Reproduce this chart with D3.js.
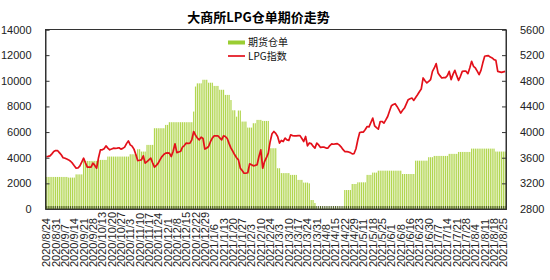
<!DOCTYPE html>
<html><head><meta charset="utf-8">
<script src="https://cdn.jsdelivr.net/npm/d3@7"></script>
<style>body{margin:0;background:#fff}svg{display:block}</style>
</head><body><svg id="c" width="550" height="280"></svg>
<script>
const title = "大商所LPG仓单期价走势";
const seriesNames = ["期货仓单", "LPG指数"];
const tickLabels = ["2020/8/24","2020/8/31","2020/9/7","2020/9/14","2020/9/21","2020/9/28","2020/10/13","2020/10/20","2020/10/27","2020/11/3","2020/11/10","2020/11/17","2020/11/24","2020/12/1","2020/12/8","2020/12/15","2020/12/22","2020/12/29","2021/1/6","2021/1/13","2021/1/20","2021/1/27","2021/2/3","2021/2/10","2021/2/24","2021/3/3","2021/3/10","2021/3/17","2021/3/24","2021/3/31","2021/4/8","2021/4/15","2021/4/22","2021/4/29","2021/5/11","2021/5/18","2021/5/25","2021/6/1","2021/6/8","2021/6/16","2021/6/23","2021/6/30","2021/7/7","2021/7/14","2021/7/21","2021/7/28","2021/8/4","2021/8/11","2021/8/18","2021/8/25"];
const leftTicks = [0,2000,4000,6000,8000,10000,12000,14000];
const rightTicks = [2800,3200,3600,4000,4400,4800,5200,5600];
// daily warehouse receipts (期货仓单)
const receipts = [
2500,2500,2500,2500,2500,2500,2500,2500,2500,2500,
2500,2500,2450,2450,2450,2450,2700,2700,2700,2700,
3750,3750,3750,3750,3750,3750,3750,3750,3830,3830,
3830,3830,3830,4090,4090,4090,4090,4090,4090,4090,
4090,4090,4090,4090,4090,4270,4270,4270,4270,4660,
4660,4480,4480,4480,5000,5000,5000,5000,6300,6300,
6300,6300,6300,6300,6560,6560,6770,6770,6770,6770,
6770,6770,6770,6770,6770,6770,6770,6770,6770,7600,
9550,9800,9800,9800,10080,10080,10080,9850,9850,9850,
9600,9600,9600,9300,9300,9300,8900,8900,8900,8500,
7700,7700,7200,7680,7680,6820,6820,6820,6350,6350,
6350,6690,6690,6950,6950,6950,6870,6870,6870,6870,
4740,4740,4740,4740,3180,3180,2800,2800,2800,2800,
2800,2660,2660,2660,2660,2270,2270,2270,2060,2060,
2060,2000,700,700,470,0,0,0,0,0,
0,0,0,0,0,0,0,0,0,0,
1480,1480,1480,1480,1950,1950,1950,2080,2080,2080,
2080,2080,2660,2660,2660,2840,2840,2840,2990,2990,
2990,2990,2990,2990,2990,2990,2990,2990,2990,2990,
2990,2730,2730,2730,2730,2730,2730,2730,3770,3770,
3770,3770,3770,3770,3770,4040,4040,4040,4140,4140,
4140,4140,4140,4140,4140,4140,4300,4300,4300,4300,
4300,4450,4450,4450,4450,4450,4450,4450,4710,4710,
4710,4710,4710,4710,4710,4710,4710,4710,4710,4710,
4710,4480,4480,4480,4480,4480,4480];
// daily LPG index (LPG指数)
const lpgIndex = [
3618,3620,3629,3660,3696,3712,3712,3680,3645,3600,
3593,3580,3566,3545,3515,3475,3437,3440,3473,3530,
3593,3520,3452,3455,3452,3515,3480,3437,3600,3723,
3723,3740,3785,3750,3723,3735,3749,3745,3749,3755,
3734,3745,3765,3820,3863,3801,3780,3734,3650,3556,
3560,3566,3629,3515,3540,3566,3593,3520,3452,3480,
3515,3570,3618,3650,3671,3675,3671,3618,3700,3817,
3680,3690,3700,3765,3790,3828,3825,3828,3879,4009,
3950,3906,3879,3921,3900,3734,3750,3775,3850,3906,
3942,3940,3942,3910,3879,3942,3930,3900,3820,3749,
3700,3645,3600,3566,3437,3400,3358,3360,3365,3504,
3490,3473,3480,3490,3618,3723,3437,3540,3600,3671,
3850,3973,4009,3980,3931,3828,3870,3853,3906,3879,
3870,3957,3945,3940,3940,3945,3945,3900,3853,3931,
3785,3830,3820,3780,3749,3828,3800,3760,3765,3765,
3750,3750,3790,3817,3810,3815,3820,3800,3770,3730,
3696,3695,3690,3680,3660,3665,3740,3880,3993,4000,
4000,4040,4087,4080,4150,4218,4098,4070,4046,4165,
4165,4140,4190,4243,4330,4411,4430,4442,4400,4350,
4296,4340,4375,4440,4505,4520,4531,4494,4540,4583,
4630,4672,4844,4800,4766,4790,4818,4947,5000,5068,
4922,4880,4844,4850,4850,4880,4947,4818,4900,4963,
4880,4807,4870,4947,4950,4950,4911,5000,5104,5026,
5000,4950,4896,4963,5080,5182,5190,5193,5170,5156,
5130,5120,4947,4940,4932,4940,4947];

const svg = d3.select("#c");
const L = 45.5, R = 506, T = 29.5, B = 209;
const idx = d3.range(receipts.length);
const x = d3.scaleBand().domain(idx).range([L, R]).paddingInner(0.35).paddingOuter(0.1);
const yL = d3.scaleLinear().domain([0, 14000]).range([B, T]);
const yR = d3.scaleLinear().domain([2800, 5600]).range([B, T]);

svg.append("text").attr("x", 258.5).attr("y", 22).attr("text-anchor", "middle")
  .attr("font-family", "'Noto Sans CJK SC', sans-serif").attr("font-weight", "bold")
  .attr("font-size", 13).attr("fill", "#000").text(title);

// bars
svg.append("g").selectAll("rect").data(receipts).join("rect")
  .attr("x", (d, i) => x(i)).attr("width", x.bandwidth())
  .attr("y", d => yL(d)).attr("height", d => B - yL(d))
  .attr("fill", "#b2d650");

// line
svg.append("path").datum(lpgIndex)
  .attr("d", d3.line().x((d, i) => x(i) + x.bandwidth() / 2).y(d => yR(d)))
  .attr("fill", "none").attr("stroke", "#e3101a").attr("stroke-width", 1.7)
  .attr("stroke-linejoin", "round");

// frame
svg.append("rect").attr("x", L).attr("y", T).attr("width", R - L).attr("height", B - T)
  .attr("fill", "none").attr("stroke", "#333").attr("stroke-width", 1);

const axisFont = "Arial, 'Liberation Sans', sans-serif";
const gl = svg.append("g").attr("transform", `translate(${L},0)`)
  .call(d3.axisLeft(yL).tickValues(leftTicks).tickSize(-4).tickPadding(14).tickFormat(d3.format("d")));
const gr = svg.append("g").attr("transform", `translate(${R},0)`)
  .call(d3.axisRight(yR).tickValues(rightTicks).tickSize(-4).tickPadding(14).tickFormat(d3.format("d")));
[gl, gr].forEach(g => {
  g.select(".domain").attr("stroke", "#333");
  g.selectAll(".tick line").attr("stroke", "#333");
  g.selectAll("text").attr("font-family", axisFont).attr("font-size", 11).attr("fill", "#222");
});

// category ticks strip
const gx = svg.append("g").attr("transform", `translate(0,${B})`)
  .call(d3.axisBottom(x).tickValues(idx).tickSize(-3).tickFormat(""));
gx.select(".domain").attr("stroke", "#333");
gx.selectAll(".tick line").attr("stroke", "#4a5a20").attr("stroke-width", 1);

// rotated category labels
svg.append("g").selectAll("text").data(tickLabels).join("text")
  .attr("transform", (d, i) => `translate(${x(i * 5) + x.bandwidth() / 2 + 4},267) rotate(-90)`)
  .attr("text-anchor", "start").attr("font-family", axisFont).attr("font-size", 11)
  .attr("fill", "#222").text(d => d);

// legend
const lg = svg.append("g");
lg.append("rect").attr("x", 228).attr("y", 40.5).attr("width", 17).attr("height", 4).attr("fill", "#9acd32");
lg.append("line").attr("x1", 228).attr("x2", 245).attr("y1", 56).attr("y2", 56).attr("stroke", "#e3101a").attr("stroke-width", 1.7);
lg.selectAll("text").data(seriesNames).join("text")
  .attr("x", 248).attr("y", (d, i) => 46 + i * 14)
  .attr("font-family", "'Noto Sans CJK SC', sans-serif").attr("font-size", 10).attr("fill", "#111").text(d => d);
</script></body></html>
